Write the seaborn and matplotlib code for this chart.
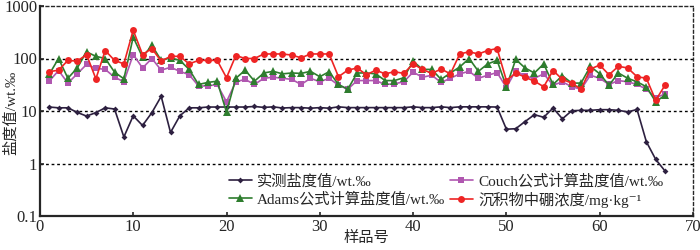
import numpy as np
import pandas as pd
import matplotlib
matplotlib.use("Agg")
import matplotlib.pyplot as plt
import seaborn as sns

# data (sample 1..67)
samples = list(range(1, 68))
measured = [11.9, 11.5, 11.5, 9.4, 8.0, 9.3, 11.5, 10.9, 3.2, 8.1,
            5.3, 9.3, 19, 3.9, 8.1, 11.5, 11.5, 11.9, 11.9, 11.9,
            11.9, 11.9, 12.2, 11.7, 12.0, 11.4, 11.6, 11.6, 11.3, 11.6,
            11.3, 12.0, 11.6, 11.6, 11.6, 11.6, 11.6, 11.6, 11.6, 12.0,
            11.6, 11.6, 12.0, 11.6, 12.0, 12.0, 12.0, 12.0, 11.9, 4.5,
            4.6, 6.3, 8.5, 7.6, 11.4, 7.1, 10.1, 10.3, 10.3, 10.6,
            10.6, 10.3, 9.6, 10.7, 2.6, 1.2, 0.72]
couch = [37, 59, 34, 51, 77, 65, 62, 44, 36, 119,
         66, 100, 60, 68, 57, 49, 30, 30, 32, 15,
         36, 40, 32, 42, 44, 42, 40, 32, 42, 36,
         42, 31, 26, 38, 38, 38, 32, 33, 36, 55,
         44, 48, 35, 42, 51, 57, 42, 48, 54, 28,
         59, 46, 42, 51, 31, 36, 29, 26, 48, 42,
         32, 38, 36, 32, 26, 18, 21]
adams = [50, 100, 42, 66, 134, 110, 100, 55, 41, 255,
         106, 179, 92, 103, 92, 62, 32, 35, 37, 9.5,
         42, 60, 37, 53, 57, 51, 53, 52, 57, 45,
         56, 32, 26, 53, 53, 51, 38, 38, 43, 89,
         62, 62, 40, 53, 69, 100, 57, 79, 92, 29,
         96, 66, 53, 79, 32, 47, 34, 34, 71, 51,
         31, 53, 42, 36, 29, 15, 20]
boron = [56, 60, 92, 89, 119, 41, 142, 92, 79, 346,
         119, 155, 89, 110, 110, 79, 92, 92, 92, 43,
         114, 100, 100, 122, 122, 122, 116, 103, 122, 122,
         122, 45, 60, 66, 49, 60, 51, 56, 52, 79,
         62, 52, 63, 51, 122, 134, 122, 142, 155, 38,
         53, 44, 37, 29, 59, 40, 34, 26, 63, 75,
         49, 71, 66, 45, 42, 16, 31]

yticks = [0.1, 1, 10, 100, 1000]
ytick_labels = ['0.1', '1', '10', '100', '1000']

sns.set_style('ticks')
plt.rcParams['font.family'] = ['Liberation Serif', 'Noto Sans CJK SC', 'DejaVu Serif']

fig, ax = plt.subplots(figsize=(7, 2.5), dpi=100)
fig.subplots_adjust(left=0.057, right=0.99, top=0.976, bottom=0.136)

sns.lineplot(x=samples, y=measured, ax=ax, color='#2d2040', marker='D',
             markersize=3, markeredgewidth=0, linewidth=1.2,
             label='实测盐度值/wt.‰')
sns.lineplot(x=samples, y=couch, ax=ax, color='#b057b0', marker='s',
             markersize=5, markeredgewidth=0, linewidth=1.2,
             label='Couch公式计算盐度值/wt.‰')
sns.lineplot(x=samples, y=adams, ax=ax, color='#2e7d2e', marker='^',
             markersize=5.5, markeredgewidth=0, linewidth=1.2,
             label='Adams公式计算盐度值/wt.‰')
sns.lineplot(x=samples, y=boron, ax=ax, color='#ee2424', marker='o',
             markersize=5, markeredgewidth=0, linewidth=1.2,
             label='沉积物中硼浓度/mg·kg⁻¹')

ax.set_yscale('log')
ax.set_ylim(0.1, 1000)
ax.set_xlim(0, 70)
ax.set_yticks(yticks)
ax.set_yticklabels(ytick_labels)
ax.yaxis.set_minor_locator(matplotlib.ticker.NullLocator())
ax.set_xticks(range(0, 71, 10))
ax.tick_params(axis='both', direction='in', labelsize=12, length=3, width=1.2, pad=2)

for y in [1, 10, 100]:
    ax.axhline(y, color='black', linestyle=(0, (2, 2)), linewidth=1, zorder=0)
ax.spines['left'].set_linewidth(1.6)
ax.spines['bottom'].set_linewidth(1.6)
for side in ['top', 'right']:
    ax.spines[side].set_visible(True)
    ax.spines[side].set_linestyle((0, (2, 2)))
    ax.spines[side].set_linewidth(1)

ax.set_xlabel('样品号', fontsize=11)
ax.xaxis.set_label_coords(0.5, -0.105)
ax.xaxis.label.set_va('center')
ax.set_ylabel('盐度值/wt.‰', fontsize=11)
ax.yaxis.set_label_coords(-0.034, 0.49)

handles, labels = ax.get_legend_handles_labels()
order = [0, 2, 1, 3]
ax.legend([handles[i] for i in order], [labels[i] for i in order],
          ncol=2, loc='lower left', bbox_to_anchor=(0.28, 0.01),
          frameon=False, fontsize=11, handlelength=1.5, handletextpad=0.35,
          columnspacing=0.3, labelspacing=0.2, borderaxespad=0)

plt.savefig('out.png', dpi=100)
